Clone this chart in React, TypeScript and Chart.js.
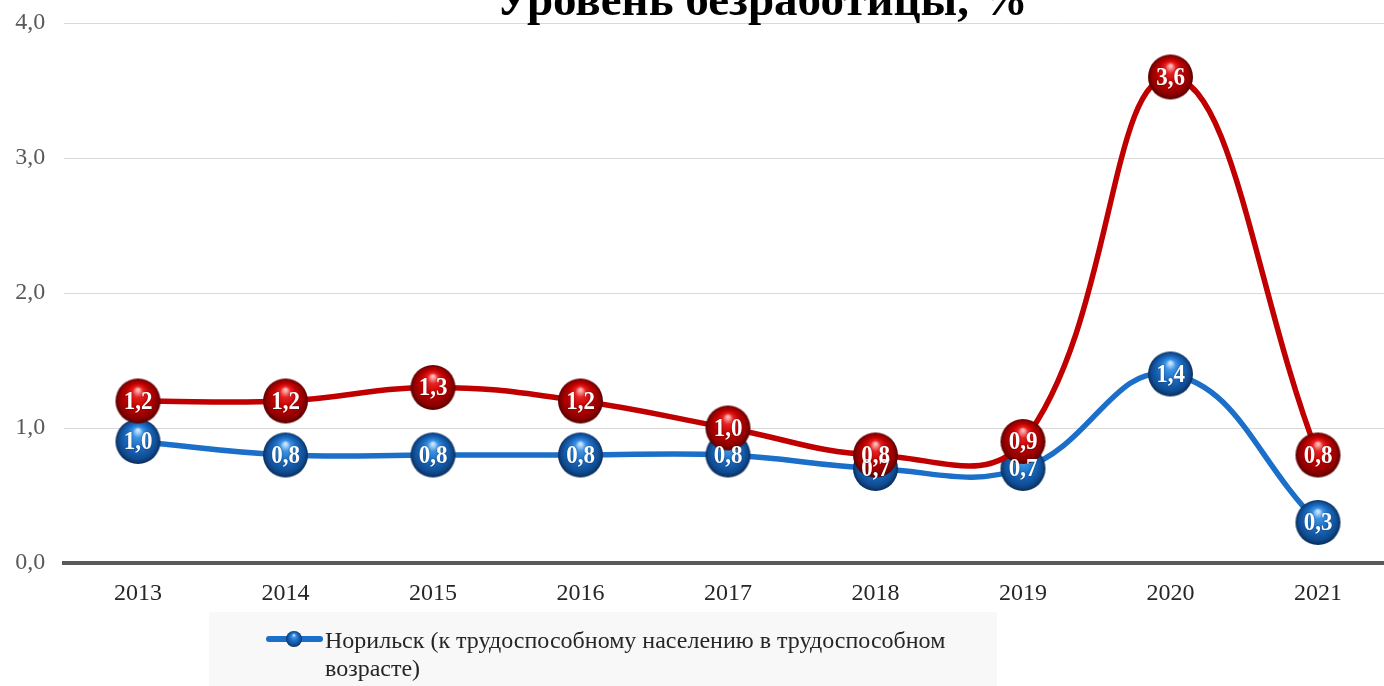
import React, { useEffect, useRef } from "react";
import { Chart, registerables } from "chart.js";

Chart.register(...registerables);

const TITLE = "Уровень безработицы, %";
const YEARS = ["2013", "2014", "2015", "2016", "2017", "2018", "2019", "2020", "2021"];
const NORILSK_VALUES = [0.9, 0.8, 0.8, 0.8, 0.8, 0.7, 0.7, 1.4, 0.3];
const NORILSK_LABELS = ["1,0", "0,8", "0,8", "0,8", "0,8", "0,7", "0,7", "1,4", "0,3"];
const SECOND_VALUES = [1.2, 1.2, 1.3, 1.2, 1.0, 0.8, 0.9, 3.6, 0.8];
const SECOND_LABELS = ["1,2", "1,2", "1,3", "1,2", "1,0", "0,8", "0,9", "3,6", "0,8"];
const LEGEND_LINES = ["Норильск (к трудоспособному населению в трудоспособном", "возрасте)"];
const Y_MIN = 0;
const Y_MAX = 4;
const Y_STEP = 1;

const FONT = "'Liberation Serif', 'Times New Roman', serif";
const RED = "#c00000";
const BLUE = "#1b6fc8";

function makeSphere(r: number, stops: [number, string][]) {
  const c = document.createElement("canvas");
  const s = Math.ceil(r * 2 + 2);
  c.width = s;
  c.height = s;
  const g = c.getContext("2d")!;
  const cx = s / 2;
  const cy = s / 2;
  const grad = g.createRadialGradient(cx, cy - r * 0.5, r * 0.05, cx, cy, r);
  stops.forEach(([o, col]) => grad.addColorStop(o, col));
  g.beginPath();
  g.arc(cx, cy, r, 0, Math.PI * 2);
  g.fillStyle = grad;
  g.fill();
  return c;
}

const RED_STOPS: [number, string][] = [
  [0, "#ffb8b8"],
  [0.2, "#e62222"],
  [0.5, "#c40000"],
  [0.85, "#8c0000"],
  [1, "#560000"],
];
const BLUE_STOPS: [number, string][] = [
  [0, "#c8e4ff"],
  [0.2, "#3b92e3"],
  [0.5, "#1b6cc4"],
  [0.85, "#0f4a8f"],
  [1, "#0a2d5a"],
];

export default function App() {
  const ref = useRef<HTMLCanvasElement | null>(null);

  useEffect(() => {
    const canvas = ref.current!;
    const redSphere = makeSphere(22.5, RED_STOPS);
    const blueSphere = makeSphere(22.5, BLUE_STOPS);
    const legendSphere = makeSphere(8, BLUE_STOPS);

    const labelsPlugin = {
      id: "pointLabels",
      afterDatasetsDraw(chart: any) {
        const ctx = chart.ctx;
        ctx.save();
        ctx.font = `bold 23px ${FONT}`;
        ctx.fillStyle = "#ffffff";
        ctx.textAlign = "center";
        ctx.textBaseline = "middle";
        ctx.shadowColor = "rgba(0,0,0,0.45)";
        ctx.shadowBlur = 2;
        [1, 0].forEach((di) => {
          const meta = chart.getDatasetMeta(di);
          const labs = (chart.data.datasets[di] as any).pointLabels as string[];
          meta.data.forEach((pt: any, i: number) => {
            ctx.save();
            ctx.translate(pt.x, pt.y + 1);
            ctx.scale(1, 1.12);
            ctx.fillText(labs[i], 0, 0);
            ctx.restore();
          });
        });
        ctx.restore();
      },
    };

    const decorPlugin = {
      id: "decor",
      afterDraw(chart: any) {
        const ctx = chart.ctx;
        ctx.save();
        ctx.font = `bold 47px ${FONT}`;
        ctx.fillStyle = "#000000";
        ctx.textAlign = "center";
        ctx.textBaseline = "alphabetic";
        ctx.fillText(TITLE, 762, 15);
        ctx.fillStyle = "#f8f8f8";
        ctx.fillRect(209, 612, 788, 80);
        ctx.strokeStyle = BLUE;
        ctx.lineWidth = 6;
        ctx.lineCap = "round";
        ctx.beginPath();
        ctx.moveTo(269, 639);
        ctx.lineTo(320, 639);
        ctx.stroke();
        ctx.drawImage(legendSphere, 294 - legendSphere.width / 2, 639 - legendSphere.height / 2);
        ctx.font = `24px ${FONT}`;
        ctx.fillStyle = "#262626";
        ctx.textAlign = "left";
        ctx.fillText(LEGEND_LINES[0], 325, 648);
        ctx.fillText(LEGEND_LINES[1], 325, 676);
        ctx.restore();
      },
    };

    const chart = new Chart(canvas, {
      type: "line",
      data: {
        labels: YEARS,
        datasets: [
          {
            label: "Ряд 2",
            data: SECOND_VALUES,
            pointLabels: SECOND_LABELS,
            borderColor: RED,
            backgroundColor: RED,
            borderWidth: 5.5,
            tension: 0.42,
            pointStyle: redSphere,
            pointRadius: 22,
            order: 0,
          } as any,
          {
            label: "Норильск (к трудоспособному населению в трудоспособном возрасте)",
            data: NORILSK_VALUES,
            pointLabels: NORILSK_LABELS,
            borderColor: BLUE,
            backgroundColor: BLUE,
            borderWidth: 5.5,
            tension: 0.42,
            pointStyle: blueSphere,
            pointRadius: 22,
            order: 1,
          } as any,
        ],
      },
      options: {
        responsive: false,
        animation: false,
        devicePixelRatio: 1,
        events: [],
        layout: { autoPadding: false, padding: { top: 23, right: 8.25, left: 0, bottom: 0 } },
        plugins: {
          legend: { display: false },
          title: { display: false },
          tooltip: { enabled: false },
        },
        scales: {
          x: {
            offset: true,
            grid: { display: false, drawTicks: false },
            border: { display: true, color: "#595959", width: 4 },
            ticks: {
              color: "#262626",
              font: { family: FONT, size: 24 },
              padding: 16,
              maxRotation: 0,
            },
            afterFit(scale: any) {
              scale.height = 123;
            },
          },
          y: {
            min: Y_MIN,
            max: Y_MAX,
            border: { display: false },
            grid: {
              drawTicks: true,
              tickLength: 19,
              tickColor: "rgba(0,0,0,0)",
              lineWidth: 1,
              color: (c: any) => (c.tick && c.tick.value === 0 ? "rgba(0,0,0,0)" : "#d9d9d9"),
            },
            ticks: {
              stepSize: Y_STEP,
              color: "#595959",
              font: { family: FONT, size: 24 },
              padding: 0,
              callback: (v: any) => Number(v).toFixed(1).replace(".", ","),
            },
            afterFit(scale: any) {
              scale.width = 64.25;
            },
          },
        },
      },
      plugins: [labelsPlugin, decorPlugin],
    });
    return () => chart.destroy();
  }, []);

  return (
    <div
      style={{
        position: "fixed",
        left: 0,
        top: 0,
        width: 1384,
        height: 686,
        overflow: "hidden",
        background: "#ffffff",
      }}
    >
      <canvas ref={ref} width={1400} height={686} style={{ display: "block" }} />
    </div>
  );
}
